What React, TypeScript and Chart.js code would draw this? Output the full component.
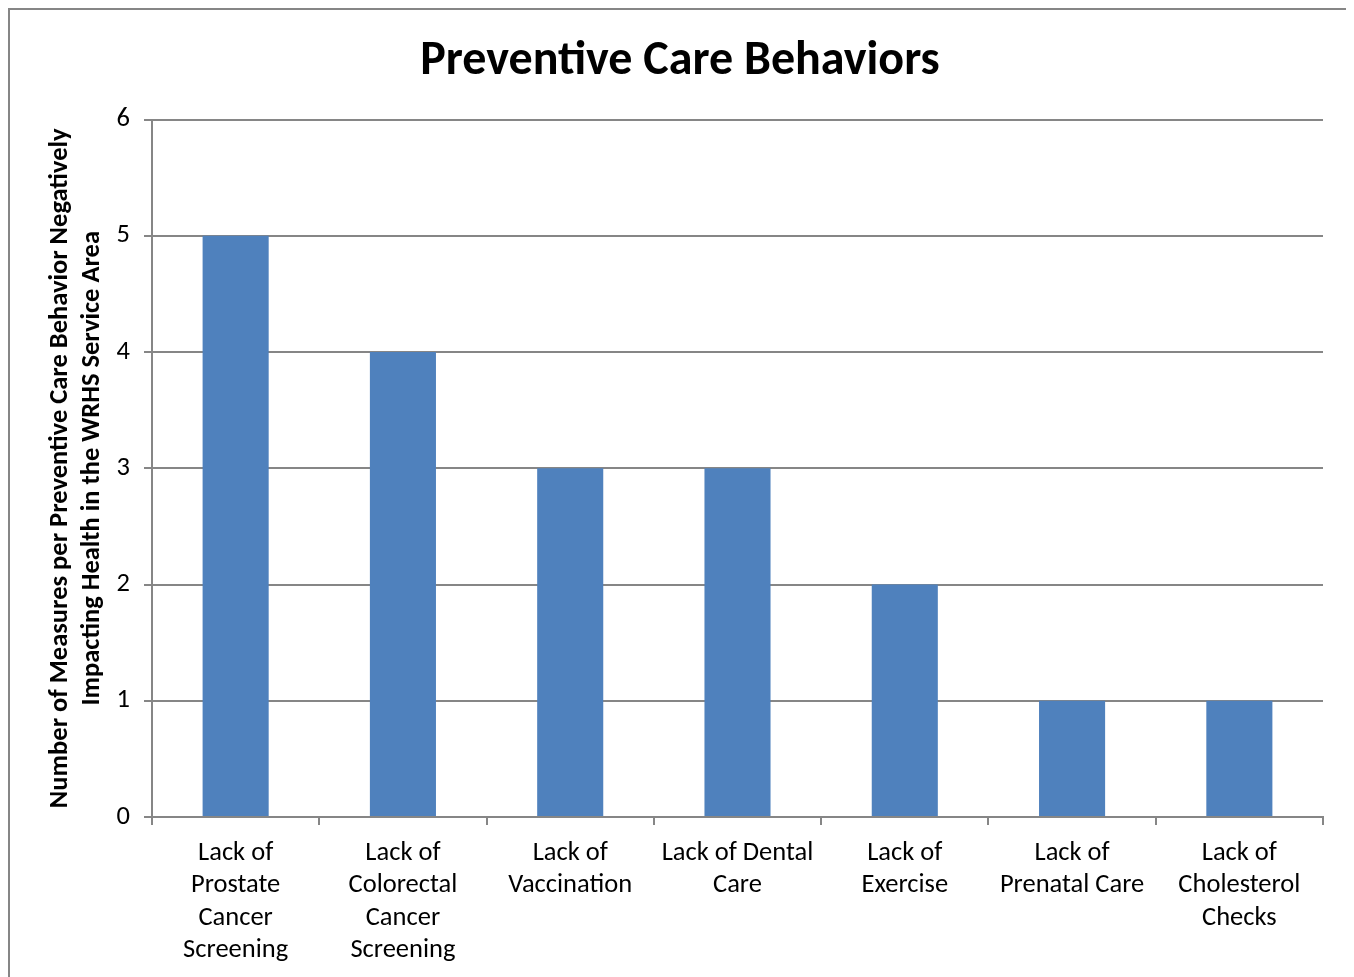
import React, { useEffect, useRef } from "react";
import { Chart, registerables } from "chart.js";

Chart.register(...registerables);

const categories: string[][] = [
  ["Lack of", "Prostate", "Cancer", "Screening"],
  ["Lack of", "Colorectal", "Cancer", "Screening"],
  ["Lack of", "Vaccination"],
  ["Lack of Dental", "Care"],
  ["Lack of", "Exercise"],
  ["Lack of", "Prenatal Care"],
  ["Lack of", "Cholesterol", "Checks"],
];
const measureCounts: number[] = [5, 4, 3, 3, 2, 1, 1];
const chartTitle = "Preventive Care Behaviors";
const yAxisTitle: string[] = [
  "Number of Measures per Preventive Care Behavior Negatively",
  "Impacting Health in the WRHS Service Area",
];

const FONT = "Carlito, Lato, 'Open Sans', sans-serif";
const GRID = "#868686";

export default function App() {
  const ref = useRef<HTMLCanvasElement | null>(null);
  useEffect(() => {
    if (!ref.current) return;
    const chart = new Chart(ref.current, {
      type: "bar",
      data: {
        labels: categories,
        datasets: [
          {
            data: measureCounts,
            backgroundColor: "#4F81BD",
            borderWidth: 0,
            barPercentage: 0.395,
            categoryPercentage: 1,
          },
        ],
      },
      options: {
        responsive: false,
        animation: false,
        layout: { padding: { left: 27, right: 27, top: 0, bottom: 0 } },
        plugins: {
          legend: { display: false },
          tooltip: { enabled: false },
          title: {
            display: true,
            text: chartTitle,
            color: "#000",
            font: { family: FONT, size: 48, weight: "bold", lineHeight: 1.2 },
            padding: { top: 23, bottom: 29 },
          },
        },
        scales: {
          x: {
            grid: {
              display: true,
              drawOnChartArea: false,
              drawTicks: true,
              tickLength: 8,
              color: GRID,
              lineWidth: 2,
              offset: true,
            },
            border: { display: true, color: GRID, width: 2 },
            ticks: {
              color: "#000",
              font: { family: FONT, size: 26.5, lineHeight: 32.5 / 26.5 },
              padding: 12,
              maxRotation: 0,
              autoSkip: false,
            },
            afterFit: (scale: any) => {
              scale.height = 168;
            },
          },
          y: {
            min: 0,
            max: 6,
            grid: {
              color: GRID,
              lineWidth: 2,
              tickLength: 8,
              drawTicks: true,
            },
            border: { display: true, color: GRID, width: 2 },
            ticks: {
              stepSize: 1,
              color: "#000",
              font: { family: FONT, size: 26.5 },
              padding: 14,
            },
            title: {
              display: true,
              text: yAxisTitle,
              color: "#000",
              font: { family: FONT, size: 26.5, weight: "bold", lineHeight: 32 / 26.5 },
              padding: { top: 7, bottom: 0 },
            },
            afterFit: (scale: any) => {
              scale.width = 115;
            },
          },
        },
      },
    });
    return () => chart.destroy();
  }, []);
  return (
    <div
      style={{
        width: 1340,
        height: 975,
        border: `2px solid ${GRID}`,
        background: "#fff",
      }}
    >
      <canvas ref={ref} width={1340} height={975} style={{ display: "block" }} />
    </div>
  );
}
